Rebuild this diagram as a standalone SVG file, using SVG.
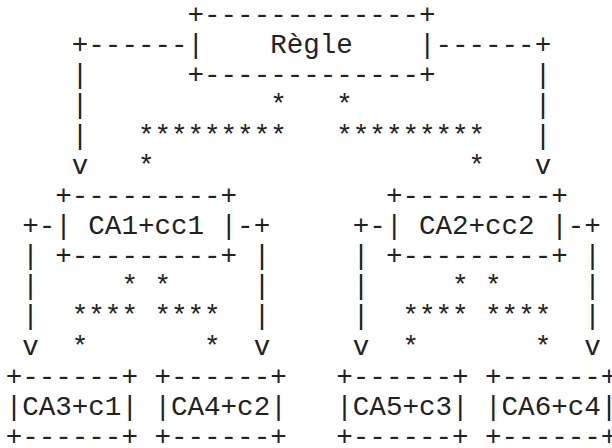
<svg xmlns="http://www.w3.org/2000/svg" width="612" height="448" viewBox="0 0 612 448" xml:space="preserve">
<style>
text { font-family: "Liberation Mono", "Courier New", monospace; font-size: 27.55px; fill: #222; white-space: pre; }
</style>
<rect width="612" height="448" fill="#fff"/>
<g id="connectors">
<text x="71.82" y="53.14">+------</text>
<text x="435.48" y="53.14">------+</text>
<text x="71.82" y="83.28">|</text>
<text x="534.66" y="83.28">|</text>
<text x="5.7" y="113.42">    |           *   *           |</text>
<text x="5.7" y="143.56">    |   *********   *********   |</text>
<text x="5.7" y="173.7">    v   *                   *   v</text>
<text x="22.23" y="233.98">+-</text>
<text x="237.12" y="233.98">-+</text>
<text x="352.83" y="233.98">+-</text>
<text x="567.72" y="233.98">-+</text>
<text x="22.23" y="264.12">|</text>
<text x="253.65" y="264.12">|</text>
<text x="352.83" y="264.12">|</text>
<text x="584.25" y="264.12">|</text>
<text x="5.7" y="294.26"> |     * *     |     |     * *     |</text>
<text x="5.7" y="324.4"> |  **** ****  |     |  **** ****  |</text>
<text x="5.7" y="354.54"> v  *       *  v     v  *       *  v</text>
</g>
<g id="regle">
<text x="187.53" y="23">+-------------+</text>
<text x="187.53" y="53.14">|    Règle    |</text>
<text x="187.53" y="83.28">+-------------+</text>
</g>
<g id="ca1">
<text x="55.29" y="203.84">+---------+</text>
<text x="55.29" y="233.98">| CA1+cc1 |</text>
<text x="55.29" y="264.12">+---------+</text>
</g>
<g id="ca2">
<text x="385.89" y="203.84">+---------+</text>
<text x="385.89" y="233.98">| CA2+cc2 |</text>
<text x="385.89" y="264.12">+---------+</text>
</g>
<g id="ca3">
<text x="5.7" y="384.68">+------+</text>
<text x="5.7" y="414.82">|CA3+c1|</text>
<text x="5.7" y="444.96">+------+</text>
</g>
<g id="ca4">
<text x="154.47" y="384.68">+------+</text>
<text x="154.47" y="414.82">|CA4+c2|</text>
<text x="154.47" y="444.96">+------+</text>
</g>
<g id="ca5">
<text x="336.3" y="384.68">+------+</text>
<text x="336.3" y="414.82">|CA5+c3|</text>
<text x="336.3" y="444.96">+------+</text>
</g>
<g id="ca6">
<text x="485.07" y="384.68">+------+</text>
<text x="485.07" y="414.82">|CA6+c4|</text>
<text x="485.07" y="444.96">+------+</text>
</g>
</svg>
